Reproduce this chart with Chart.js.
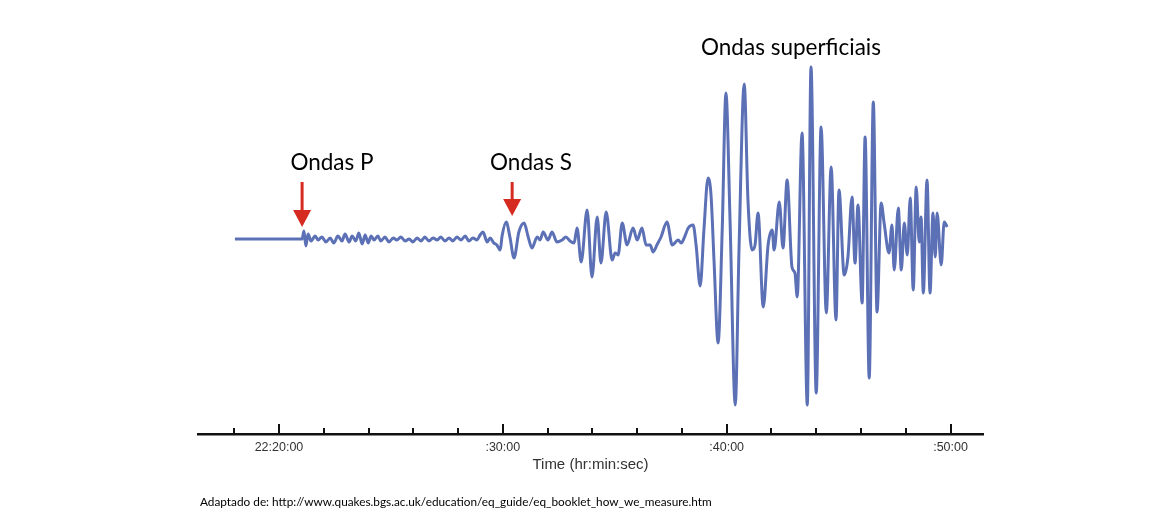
<!DOCTYPE html>
<html lang="pt">
<head>
<meta charset="utf-8">
<title>Sismograma</title>
<script src="https://cdn.jsdelivr.net/npm/chart.js@4.4.1/dist/chart.umd.min.js"></script>
<style>
  body { margin: 0; background: #fff; }
  #wrap { position: relative; width: 1174px; height: 526px; }
  .rotulo {
    position: absolute;
    transform: translate(-50%, -50%);
    font-family: Lato, "Noto Sans", sans-serif;
    font-size: 22.5px;
    color: #000;
    white-space: nowrap;
  }
  #fonte {
    position: absolute;
    left: 200px;
    top: 494px;
    font-family: Lato, "Noto Sans", sans-serif;
    font-size: 11.8px;
    color: #000;
    white-space: nowrap;
  }
</style>
</head>
<body>
<div id="wrap">
  <canvas id="sismo" width="1174" height="526"></canvas>
  <div class="rotulo" style="left:332px; top:161px;">Ondas P</div>
  <div class="rotulo" style="left:531px; top:161px;">Ondas S</div>
  <div class="rotulo" style="left:791px; top:46px;">Ondas superficiais</div>
  <div id="fonte">Adaptado de: http://www.quakes.bgs.ac.uk/education/eq_guide/eq_booklet_how_we_measure.htm</div>
</div>

<script>
// === Datos del sismograma ===
// tiempo en segundos desde 22:00:00, amplitud en unidades arbitrarias
const tiempo = [
  1082, 1262, 1267, 1272, 1278, 1286, 1297, 1305, 1315, 1326, 1337, 1347, 1358, 1369, 1377, 1388,
  1396, 1406, 1414, 1423, 1431, 1439, 1447, 1455, 1465, 1473, 1484, 1495, 1506, 1516, 1527, 1538,
  1549, 1559, 1570, 1581, 1591, 1602, 1613, 1624, 1634, 1645, 1656, 1666, 1677, 1688, 1699, 1709,
  1720, 1731, 1739, 1747, 1758, 1766, 1776, 1784, 1793, 1798, 1809, 1819, 1830, 1843, 1857, 1868,
  1878, 1892, 1900, 1908, 1921, 1932, 1945, 1959, 1969, 1980, 1991, 1999, 2010, 2026, 2039, 2053,
  2063, 2077, 2093, 2101, 2109, 2120, 2133, 2149, 2160, 2173, 2184, 2195, 2203, 2213, 2224, 2240,
  2254, 2270, 2278, 2286, 2297, 2310, 2318, 2329, 2339, 2350, 2358, 2366, 2377, 2388, 2398, 2409,
  2423, 2433, 2447, 2457, 2468, 2476, 2484, 2498, 2511, 2522, 2527, 2541, 2551, 2562, 2575, 2583,
  2589, 2602, 2616, 2626, 2640, 2653, 2667, 2680, 2693, 2701, 2715, 2725, 2736, 2744, 2752, 2763,
  2771, 2782, 2793, 2803, 2814, 2822, 2835, 2843, 2849, 2860, 2868, 2876, 2884, 2892, 2900, 2908,
  2916, 2921, 2927, 2937, 2945, 2953, 2959, 2964, 2975, 2983, 2991
];
const amplitud = [
  0, 0, 8, -7, 5, -2, 3, -1, 2, -3, 1, -4, 3, -2, 5, -3,
  3, -2, 6, -5, 4, -4, 3, -1, 3, -2, 2, -3, 1, -1, 2, -2,
  0, -3, 1, -2, 2, -2, 1, -1, 2, -2, 1, -2, 2, -1, 3, -2,
  1, -1, 4, 7, -3, 1, -4, -6, -11, 3, 17, 2, -19, 7, 16, 2,
  -9, 2, -1, 7, -1, 7, -3, -1, 2, -2, -4, 11, -23, 29, -38, 22,
  -24, 27, -21, -14, -16, 16, -6, 11, -1, 11, -6, -6, -13, -6, 2, 17,
  -6, -1, -4, 1, 11, 14, -6, -47, 9, 61, 44, -21, -104, 9, 146, 19,
  -166, -11, 155, 39, -11, -6, 26, -68, -6, 9, -11, 37, -9, 59, -28, -34,
  -58, 106, -166, 172, -154, 112, -74, 72, -81, 49, -36, -18, 42, -24, 34, -64,
  102, -139, 137, -73, 36, 16, -14, 14, -31, 31, -31, 16, -16, 41, -51, 52,
  -3, 22, -54, 59, -54, 26, -18, 26, -26, 17, 12
];

// marcas del eje (cada 2 minutos) y etiquetas de las principales
const marcasEje = [1080, 1200, 1320, 1440, 1560, 1680, 1800, 1920, 2040, 2160, 2280, 2400, 2520, 2640, 2760, 2880, 3000];
const marcasPrincipales = [1200, 1800, 2400, 3000];
const etiquetasEje = ["22:20:00", ":30:00", ":40:00", ":50:00"];

// llegada de las ondas P y S (flechas rojas)
const llegadas = [1262, 1825];

const puntos = tiempo.map((t, i) => ({ x: t, y: amplitud[i] }));

// === Plugin: marcas hacia arriba y flechas ===
const marcasPlugin = {
  id: "marcas",
  afterDraw(chart) {
    const { ctx, chartArea } = chart;
    const x = chart.scales.x;
    const y = chart.scales.y;
    const base = chartArea.bottom;

    ctx.save();
    ctx.strokeStyle = "#111";
    ctx.lineWidth = 2;
    marcasEje.forEach(v => {
      const px = Math.round(x.getPixelForValue(v));
      const largo = marcasPrincipales.includes(v) ? 10 : 6;
      ctx.beginPath();
      ctx.moveTo(px, base);
      ctx.lineTo(px, base - largo);
      ctx.stroke();
    });

    // flechas: punta un poco por encima de la onda
    const puntas = [12, 23];
    ctx.strokeStyle = "#d62b20";
    ctx.fillStyle = "#d62b20";
    llegadas.forEach((v, i) => {
      const px = x.getPixelForValue(v);
      const arriba = y.getPixelForValue(57);
      const punta = y.getPixelForValue(puntas[i]);
      const inicioCabeza = punta - 17;
      ctx.lineWidth = 3;
      ctx.beginPath();
      ctx.moveTo(px, arriba);
      ctx.lineTo(px, inicioCabeza + 1);
      ctx.stroke();
      ctx.beginPath();
      ctx.moveTo(px - 9, inicioCabeza);
      ctx.lineTo(px + 9, inicioCabeza);
      ctx.lineTo(px, punta);
      ctx.closePath();
      ctx.fill();
    });
    ctx.restore();
  }
};

new Chart(document.getElementById("sismo"), {
  type: "line",
  data: {
    datasets: [{
      data: puntos,
      borderColor: "#5c70b6",
      borderWidth: 3,
      pointRadius: 0,
      cubicInterpolationMode: "monotone",
      fill: false
    }]
  },
  options: {
    responsive: false,
    animation: false,
    layout: { padding: { left: 198, right: 191, top: 44, bottom: 48 } },
    plugins: { legend: { display: false }, tooltip: { enabled: false } },
    scales: {
      x: {
        type: "linear",
        min: 983,
        max: 3087,
        afterBuildTicks(scale) {
          scale.ticks = marcasEje.map(v => ({ value: v }));
        },
        afterFit(scale) {
          scale.height = 44;
        },
        grid: { drawOnChartArea: false, drawTicks: false },
        border: { display: true, color: "#111", width: 2.5 },
        ticks: {
          autoSkip: false,
          maxRotation: 0,
          padding: 6,
          color: "#333",
          font: { family: "'Liberation Sans', Arial, sans-serif", size: 12.5 },
          callback(value) {
            const k = marcasPrincipales.indexOf(value);
            return k >= 0 ? etiquetasEje[k] : "";
          }
        },
        title: {
          display: true,
          text: "Time (hr:min:sec)",
          color: "#333",
          padding: { top: 0, bottom: 4 },
          font: { family: "'Liberation Sans', Arial, sans-serif", size: 15 }
        }
      },
      y: {
        display: false,
        min: -195,
        max: 195
      }
    }
  },
  plugins: [marcasPlugin]
});
</script>
</body>
</html>
